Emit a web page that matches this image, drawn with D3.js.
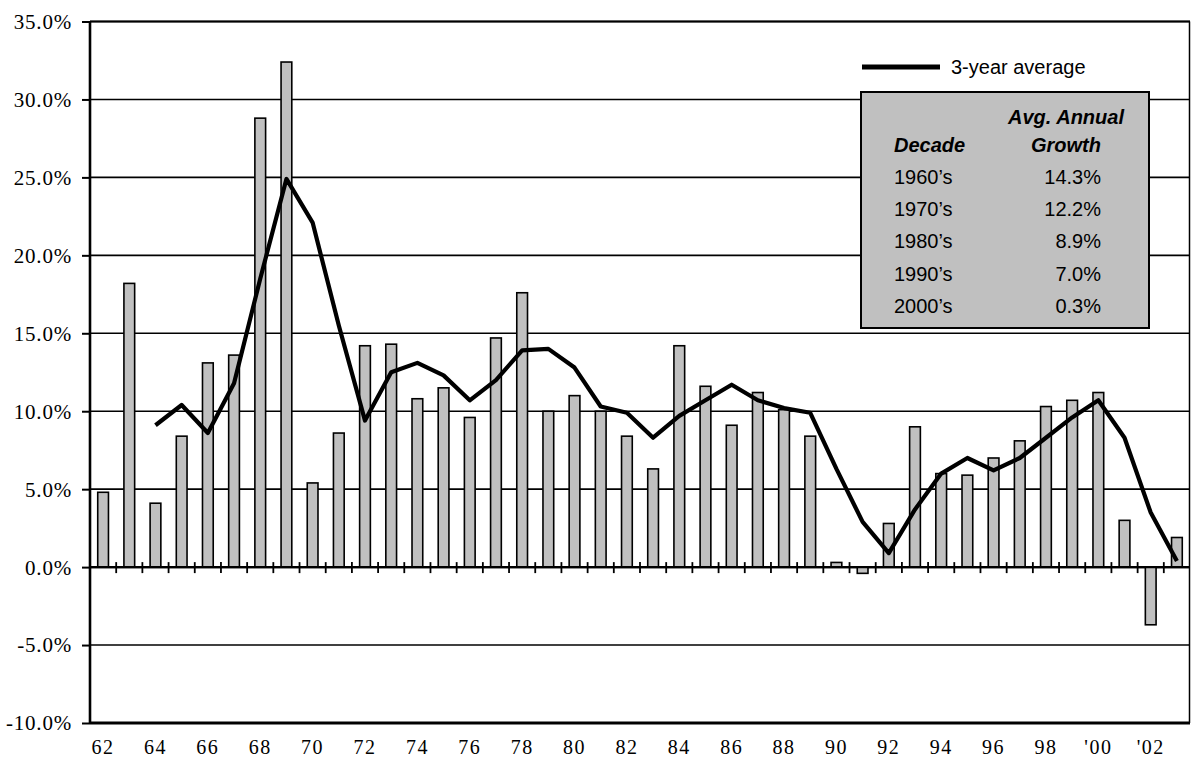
<!DOCTYPE html>
<html>
<head>
<meta charset="utf-8">
<script src="https://cdn.jsdelivr.net/npm/d3@7"></script>
<style>
  body { margin: 0; background: #fff; }
  svg { display: block; }
</style>
</head>
<body>
<svg id="chart" width="1192" height="759"></svg>
<script>
// Annual growth rate by year, 1962-2003 (percent)
const years = ["62","63","64","65","66","67","68","69","70","71","72","73","74","75","76","77","78","79","80","81","82","83","84","85","86","87","88","89","90","91","92","93","94","95","96","97","98","99","'00","'01","'02","'03"];
const growth = [4.8,18.2,4.1,8.4,13.1,13.6,28.8,32.4,5.4,8.6,14.2,14.3,10.8,11.5,9.6,14.7,17.6,10.0,11.0,10.0,8.4,6.3,14.2,11.6,9.1,11.2,10.1,8.4,0.3,-0.4,2.8,9.0,6.0,5.9,7.0,8.1,10.3,10.7,11.2,3.0,-3.7,1.9];

// 3-year average, first available in 1964
const avgYears = years.slice(2);
const avg3 = [9.1,10.4,8.6,11.8,18.5,24.9,22.1,15.5,9.4,12.5,13.1,12.3,10.7,12.0,13.9,14.0,12.8,10.3,9.9,8.3,9.7,10.7,11.7,10.7,10.2,9.9,6.3,2.9,0.9,3.7,6.0,7.0,6.2,7.0,8.3,9.6,10.7,8.3,3.5,0.4];

// Axis ticks
const yTicks = [-10,-5,0,5,10,15,20,25,30,35];
const xTickLabels = ["62","64","66","68","70","72","74","76","78","80","82","84","86","88","90","92","94","96","98","'00","'02"];

// Decade summary table
const decades = ["1960\u2019s","1970\u2019s","1980\u2019s","1990\u2019s","2000\u2019s"];
const decadeGrowth = ["14.3%","12.2%","8.9%","7.0%","0.3%"];

const svg = d3.select("#chart");
const L = 90, R = 1190, T = 21.5, B = 723;

const x = d3.scaleBand().domain(years).range([L, R]);
const y = d3.scaleLinear().domain([-10, 35]).range([B, T]);
const cx = d => x(d) + x.bandwidth() / 2;

const serif = "'Liberation Serif', 'Times New Roman', serif";
const sans = "'Liberation Sans', Arial, sans-serif";

// Horizontal gridlines
svg.append("g").selectAll("line").data(yTicks).join("line")
  .attr("x1", L).attr("x2", R)
  .attr("y1", d => y(d)).attr("y2", d => y(d))
  .attr("stroke", "#000")
  .attr("stroke-width", d => d === 0 ? 2.2 : 1.6);

// Y axis with percent labels
const yAxis = svg.append("g").attr("transform", `translate(${L},0)`)
  .call(d3.axisLeft(y).tickValues(yTicks).tickSize(8).tickPadding(10)
    .tickFormat(d => d.toFixed(1) + "%"));
yAxis.select(".domain").remove();
yAxis.selectAll(".tick line").attr("stroke", "#000").attr("stroke-width", 2);
yAxis.selectAll(".tick text")
  .attr("font-family", serif).attr("font-size", 21)
  .attr("letter-spacing", "0.8px")
  .attr("fill", "#000").attr("dy", "0.33em");

// Bars
const barW = x.bandwidth() * 0.41;
svg.append("g").selectAll("rect").data(growth).join("rect")
  .attr("x", (d, i) => cx(years[i]) - barW / 2)
  .attr("width", barW)
  .attr("y", d => y(Math.max(0, d)))
  .attr("height", d => Math.abs(y(d) - y(0)))
  .attr("fill", "#c0c0c0")
  .attr("stroke", "#000")
  .attr("stroke-width", 1.6);

// Cross tick marks on the zero line at category boundaries
svg.append("g").selectAll("line").data(years.slice(1)).join("line")
  .attr("x1", d => x(d)).attr("x2", d => x(d))
  .attr("y1", y(0) - 5).attr("y2", y(0) + 6)
  .attr("stroke", "#000").attr("stroke-width", 1.8);

// Zero line drawn over bars
svg.append("line")
  .attr("x1", L).attr("x2", R).attr("y1", y(0)).attr("y2", y(0))
  .attr("stroke", "#000").attr("stroke-width", 2.2);

// 3-year average line
const line = d3.line().x((d, i) => cx(avgYears[i])).y(d => y(d));
svg.append("path").datum(avg3)
  .attr("d", line)
  .attr("fill", "none").attr("stroke", "#000")
  .attr("stroke-width", 4.2).attr("stroke-linejoin", "round");

// Plot frame
svg.append("line").attr("x1", L).attr("x2", R).attr("y1", T).attr("y2", T)
  .attr("stroke", "#000").attr("stroke-width", 2.2);
svg.append("line").attr("x1", L).attr("x2", R).attr("y1", B).attr("y2", B)
  .attr("stroke", "#000").attr("stroke-width", 2.8);
svg.append("line").attr("x1", L).attr("x2", L).attr("y1", T).attr("y2", B + 1)
  .attr("stroke", "#000").attr("stroke-width", 2.6);
svg.append("line").attr("x1", R - 0.5).attr("x2", R - 0.5).attr("y1", T).attr("y2", B)
  .attr("stroke", "#000").attr("stroke-width", 1.5);

// X axis year labels
const xAxis = svg.append("g").attr("transform", `translate(0,${B})`)
  .call(d3.axisBottom(x).tickValues(xTickLabels).tickSize(0));
xAxis.select(".domain").remove();
xAxis.selectAll(".tick text")
  .attr("y", 31).attr("dy", 0)
  .attr("font-family", serif).attr("font-size", 20)
  .attr("letter-spacing", "1.5px")
  .attr("fill", "#000");

// Legend
svg.append("line").attr("x1", 862).attr("x2", 940).attr("y1", 67).attr("y2", 67)
  .attr("stroke", "#000").attr("stroke-width", 5);
svg.append("text").attr("x", 951).attr("y", 74)
  .attr("font-family", sans).attr("font-size", 20).text("3-year average");

// Decade table
const box = svg.append("g");
box.append("rect").attr("x", 861).attr("y", 92).attr("width", 288).attr("height", 236)
  .attr("fill", "#c0c0c0").attr("stroke", "#000").attr("stroke-width", 2);
box.append("text").attr("x", 1066).attr("y", 124).attr("text-anchor", "middle")
  .attr("font-family", sans).attr("font-size", 20).attr("font-weight", "bold")
  .attr("font-style", "italic").text("Avg. Annual");
box.append("text").attr("x", 1066).attr("y", 152).attr("text-anchor", "middle")
  .attr("font-family", sans).attr("font-size", 20).attr("font-weight", "bold")
  .attr("font-style", "italic").text("Growth");
box.append("text").attr("x", 894).attr("y", 152)
  .attr("font-family", sans).attr("font-size", 20).attr("font-weight", "bold")
  .attr("font-style", "italic").text("Decade");
box.selectAll("text.dec").data(decades).join("text").attr("class", "dec")
  .attr("x", 894).attr("y", (d, i) => 184 + i * 32.2)
  .attr("font-family", sans).attr("font-size", 20).text(d => d);
box.selectAll("text.val").data(decadeGrowth).join("text").attr("class", "val")
  .attr("x", 1101).attr("y", (d, i) => 184 + i * 32.2).attr("text-anchor", "end")
  .attr("font-family", sans).attr("font-size", 20).text(d => d);
</script>
</body>
</html>
